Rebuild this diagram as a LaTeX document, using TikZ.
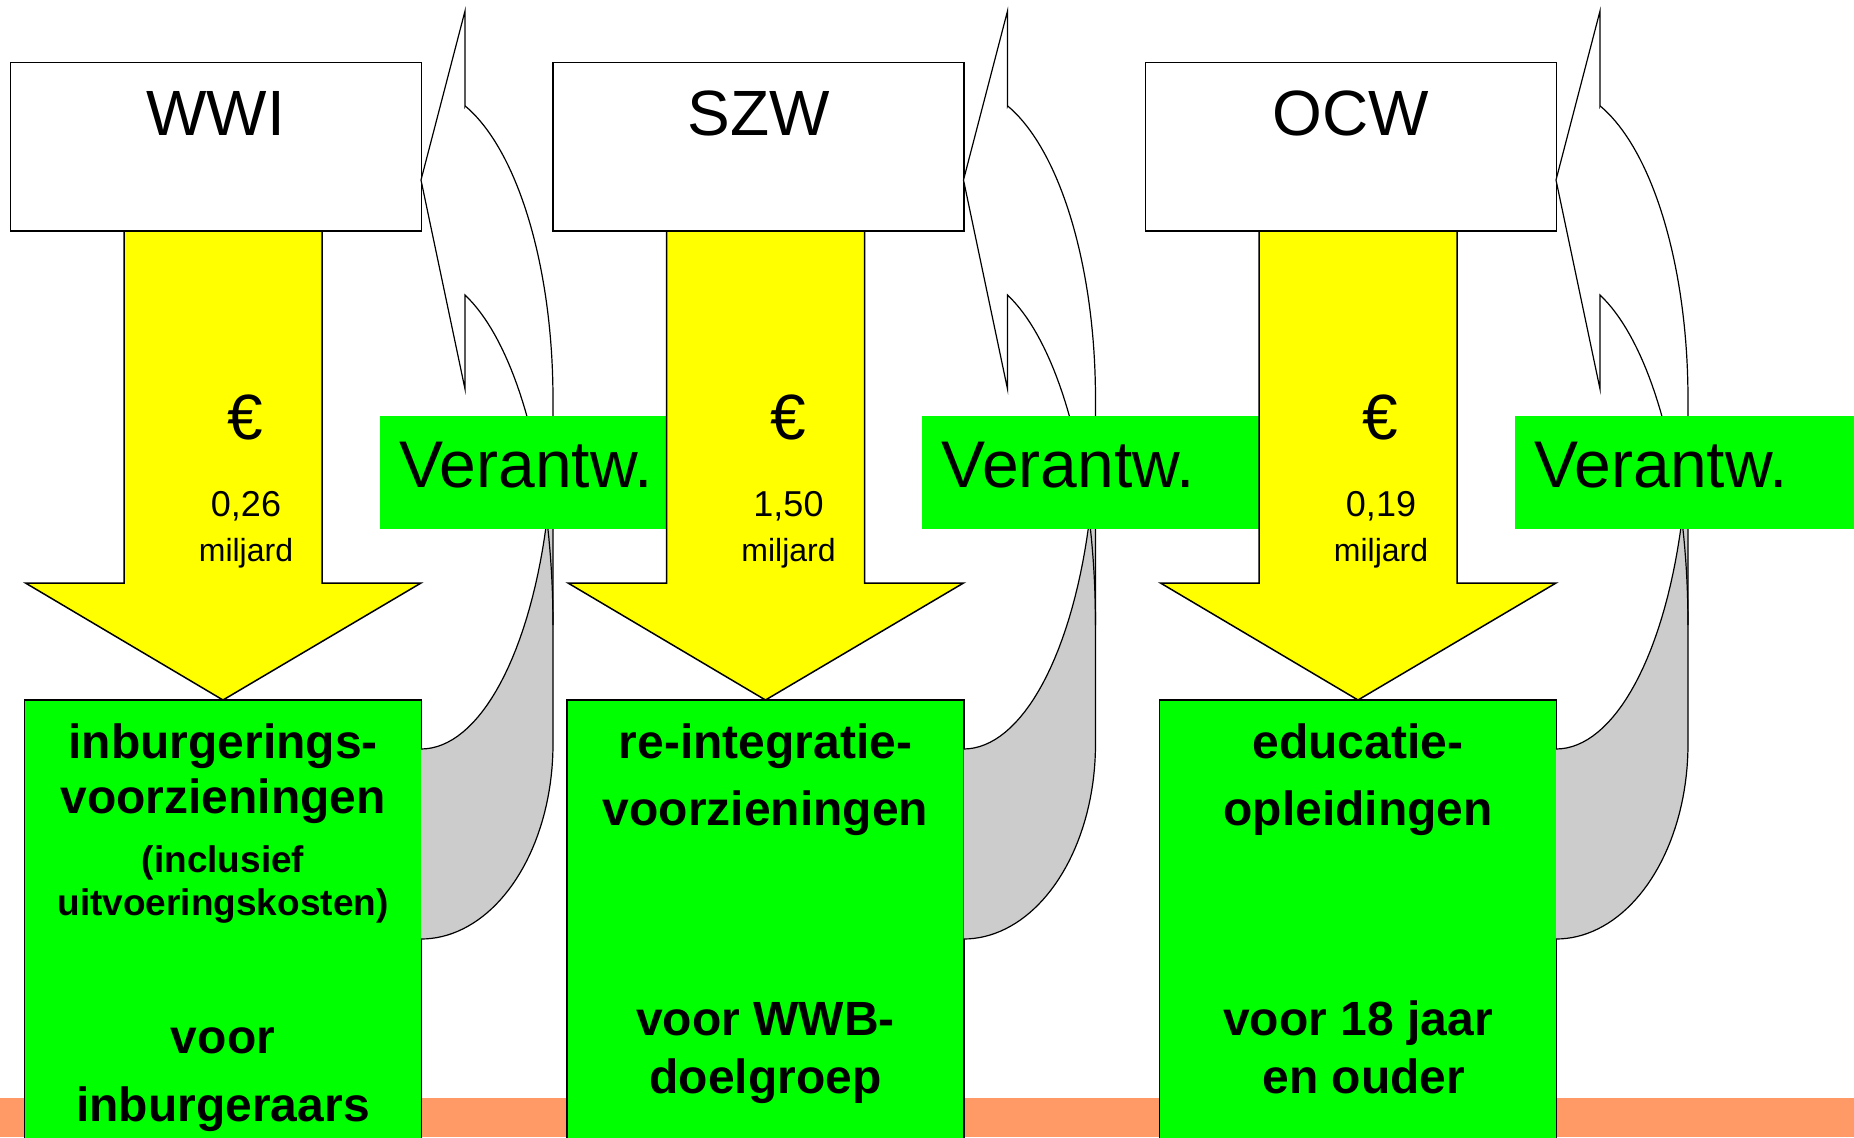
\documentclass[tikz,border=0pt]{standalone}
\usepackage{fontspec}
\setmainfont{Liberation Sans}
\definecolor{bgreen}{HTML}{00FF00}
\definecolor{byellow}{HTML}{FFFF00}
\definecolor{bgray}{HTML}{CCCCCC}
\definecolor{borange}{HTML}{FF9966}
\begin{document}
\begin{tikzpicture}[x=0.5pt,y=-0.5pt,
  topbox/.style={draw=black,line width=0.75pt,fill=white,inner sep=0pt,minimum width=205.5pt,minimum height=84.15pt},
  grnbox/.style={draw=black,line width=0.6pt,fill=bgreen,inner sep=0pt,minimum width=198.5pt,minimum height=230pt},
  verbox/.style={fill=bgreen,inner sep=0pt,minimum width=170pt,minimum height=56.15pt},
  yarrow/.style={draw=black,line width=0.75pt,fill=byellow,line join=miter},
  cfront/.style={fill=white},
  cback/.style={fill=bgray},
  cline/.style={draw=black,line width=0.6pt,line join=miter},
  bigtxt/.style={anchor=base,inner sep=0pt,font=\fontsize{32}{38}\selectfont},
  vertxt/.style={anchor=base west,inner sep=0pt,font=\fontsize{33}{39}\selectfont},
  amttxt/.style={anchor=base,inner sep=0pt,font=\fontsize{18}{22}\selectfont},
  mldtxt/.style={anchor=base,inner sep=0pt,font=\fontsize{16}{20}\selectfont},
  bbtxt/.style={anchor=base,inner sep=0pt,font=\bfseries\fontsize{24}{29}\selectfont},
  sbtxt/.style={anchor=base,inner sep=0pt,font=\bfseries\fontsize{18.5}{22}\selectfont}]
\useasboundingbox (0,0) rectangle (1854,1137);
\clip (0,0) rectangle (1854,1137);
\fill[white] (0,0) rectangle (1854,1137);
\fill[borange] (0,1097.5) rectangle (1854,1137);

\foreach \dx/\c in {0/a,542.5/b,1135/c}{
\begin{scope}[shift={(\dx,0)}]
  \node[topbox] (top\c) at (215.8,146.85) {};
  \draw[yarrow] (124,231) -- (124,583) -- (25.5,583) -- (223,700) -- (421,583) -- (322,583) -- (322,231) -- cycle;
  \node[grnbox] (grn\c) at (223,930) {};
  % curved arrow: front face
  \path[cfront] (421,180) -- (465,11) -- (465,106)
    -- plot[domain=-70.5:0,samples=40,variable=\t] ({421+132*cos(\t)},{399+311*sin(\t)})
    -- (553,625)
    -- plot[domain=0:-70.5,samples=40,variable=\t] ({421+132*cos(\t)},{625+350*sin(\t)})
    -- (465,389) -- cycle;
  % back face
  \path[cback] (421,749)
    -- plot[domain=90:0,samples=40,variable=\t] ({421+132*cos(\t)},{422+327*sin(\t)})
    -- (553,744)
    -- plot[domain=0:90,samples=40,variable=\t] ({421+132*cos(\t)},{744+195*sin(\t)})
    -- cycle;
  % outlines
  \draw[cline] (421,180) -- (465,11) -- (465,106)
    -- plot[domain=-70.5:0,samples=40,variable=\t] ({421+132*cos(\t)},{399+311*sin(\t)})
    -- (553,744)
    -- plot[domain=0:90,samples=40,variable=\t] ({421+132*cos(\t)},{744+195*sin(\t)});
  \draw[cline] (421,180) -- (465,389)
    -- plot[domain=-70.5:0,samples=40,variable=\t] ({421+132*cos(\t)},{625+350*sin(\t)});
  \draw[cline] (421,749)
    -- plot[domain=90:0,samples=40,variable=\t] ({421+132*cos(\t)},{422+327*sin(\t)});
  \node[verbox] (ver\c) at (549.5,472.35) {};
  \node[vertxt] (vert\c) at (399,487.3) {Verantw.};
\end{scope}
}

% top labels
\node[bigtxt] (twwi) at (215.8,135) {WWI};
\node[bigtxt] (tszw) at (758.5,135) {SZW};
\node[bigtxt] (tocw) at (1351,135) {OCW};

% euro amounts
\node[bigtxt] (eura) at (245.5,439) {€};
\node[amttxt] (amta) at (246,516.7) {0,26};
\node[mldtxt] (mlda) at (246,561.7) {miljard};
\node[bigtxt] (eurb) at (788,439) {€};
\node[amttxt] (amtb) at (788.5,516.7) {1,50};
\node[mldtxt] (mldb) at (788.5,561.7) {miljard};
\node[bigtxt] (eurc) at (1380.5,439) {€};
\node[amttxt] (amtc) at (1381,516.7) {0,19};
\node[mldtxt] (mldc) at (1381,561.7) {miljard};

% green box texts
\node[bbtxt] (ga1) at (223,758.3) {inburgerings-};
\node[bbtxt] (ga2) at (223,813.3) {voorzieningen};
\node[sbtxt] (ga3) at (223,872) {(inclusief};
\node[sbtxt] (ga4) at (223,915) {uitvoeringskosten)};
\node[bbtxt] (ga5) at (223,1053) {voor};
\node[bbtxt] (ga6) at (223,1121.7) {inburgeraars};

\node[bbtxt] (gb1) at (765.5,758) {re-integratie-};
\node[bbtxt] (gb2) at (765.5,825) {voorzieningen};
\node[bbtxt] (gb3) at (765.5,1035) {voor WWB-};
\node[bbtxt] (gb4) at (765.5,1093.3) {doelgroep};

\node[bbtxt] (gc1) at (1358,758) {educatie-};
\node[bbtxt] (gc2) at (1358,825) {opleidingen};
\node[bbtxt] (gc3) at (1358,1035) {voor 18 jaar};
\node[bbtxt] (gc4) at (1364,1093.3) {en ouder};
\end{tikzpicture}
\end{document}
